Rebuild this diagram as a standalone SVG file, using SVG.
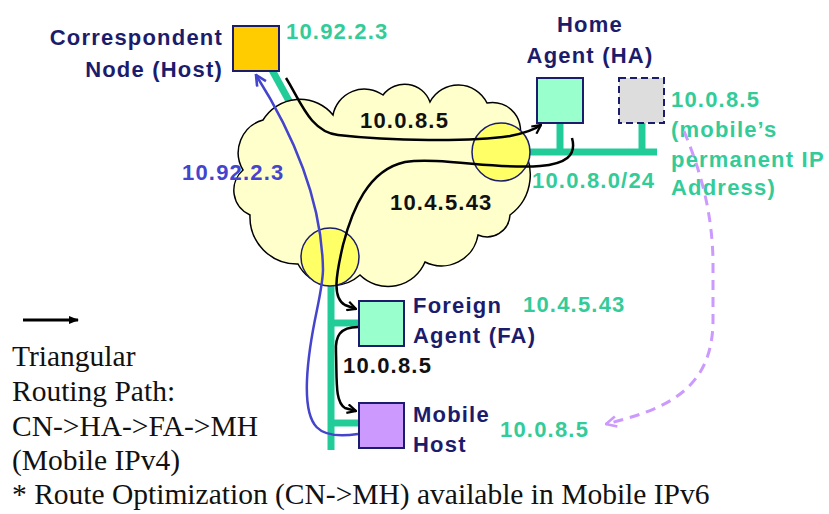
<svg xmlns="http://www.w3.org/2000/svg" width="829" height="514" viewBox="0 0 829 514">
<style>
.lbl{font-family:"Liberation Sans",Arial,sans-serif;font-weight:bold;font-size:22px;letter-spacing:1.2px}
.navy{fill:#1C1C6C}
.grn{fill:#33CC99}
.blk{fill:#111}
.blu{fill:#4444CC}
.serif{font-family:"Liberation Serif","Times New Roman",serif;font-size:29.5px;fill:#111}
.lan{stroke:#22CC99;stroke-width:7;fill:none}
.box{stroke:#1C1C6C;stroke-width:2}
.path{fill:none;stroke:#000;stroke-width:2.5}
.hot{fill:#FFFF66;stroke:#1C1C6C;stroke-width:1.5}
</style>
<defs>
<marker id="ah" viewBox="0 0 10 10" refX="9" refY="5" markerWidth="11" markerHeight="11" markerUnits="userSpaceOnUse" orient="auto">
<path d="M1,1 L9,5 L1,9" fill="none" stroke="#000" stroke-width="2"/>
</marker>
<marker id="ahb" viewBox="0 0 10 10" refX="9" refY="5" markerWidth="13" markerHeight="13" markerUnits="userSpaceOnUse" orient="auto">
<path d="M1,1 L9,5 L1,9" fill="none" stroke="#4444CC" stroke-width="2"/>
</marker>
<marker id="ahp" viewBox="0 0 10 10" refX="9" refY="5" markerWidth="13" markerHeight="13" markerUnits="userSpaceOnUse" orient="auto">
<path d="M1,1 L9,5 L1,9" fill="none" stroke="#CC99FF" stroke-width="2"/>
</marker>
<marker id="ahf" viewBox="0 0 10 10" refX="9" refY="5" markerWidth="10" markerHeight="10" markerUnits="userSpaceOnUse" orient="auto">
<path d="M0,1 L10,5 L0,9 Z" fill="#000"/>
</marker>
</defs>

<g id="links-under">
<line class="lan" x1="272" y1="70" x2="316" y2="150"/>
<line class="lan" x1="501" y1="152" x2="657" y2="152"/>
<line class="lan" x1="560" y1="123" x2="560" y2="152"/>
<line class="lan" x1="642" y1="123" x2="642" y2="152"/>
<line class="lan" x1="331" y1="270" x2="331" y2="450"/>
<line class="lan" x1="331" y1="323" x2="360" y2="323"/>
<line class="lan" x1="331" y1="423" x2="360" y2="423"/>
</g>

<g id="internet">
<path d="M263,120 A43,43 0 0 1 333,115 A32,32 0 0 1 383,95 A27,27 0 0 1 430,102 A32,32 0 0 1 487,103 A28,28 0 0 1 518,142 A50,50 0 0 1 510,215 A23,23 0 0 1 478,235 A37,37 0 0 1 425,262 A40,40 0 0 1 360,275 A40,40 0 0 1 298,264 A47,47 0 0 1 250,215 A27,27 0 0 1 243,170 A34,34 0 0 1 263,120 Z" fill="#FFFFCC" stroke="#000" stroke-width="1.5"/>
<circle class="hot" cx="501" cy="152" r="29"/>
<circle class="hot" cx="330" cy="257" r="29"/>
</g>

<g id="cn">
<rect class="box" x="233" y="26" width="46" height="45" fill="#FFCC00"/>
<text class="lbl navy" x="223" y="45" text-anchor="end">Correspondent</text>
<text class="lbl navy" x="223" y="77" text-anchor="end">Node (Host)</text>
<text class="lbl grn" x="286" y="39">10.92.2.3</text>
</g>

<g id="ha">
<rect class="box" x="537" y="78" width="46" height="45" fill="#99FFCC"/>
<text class="lbl navy" x="590" y="32" text-anchor="middle">Home</text>
<text class="lbl navy" x="590" y="63" text-anchor="middle">Agent (HA)</text>
<text class="lbl grn" x="532" y="188">10.0.8.0/24</text>
</g>

<g id="mh-home">
<rect class="box" x="619" y="78" width="45" height="45" fill="#DDDDDD" stroke-dasharray="7,4"/>
<text class="lbl grn" x="671" y="107">10.0.8.5</text>
<text class="lbl grn" x="671" y="137">(mobile’s</text>
<text class="lbl grn" x="671" y="167">permanent IP</text>
<text class="lbl grn" x="671" y="195">Address)</text>
</g>

<g id="fa">
<rect class="box" x="359" y="301" width="45" height="45" fill="#99FFCC"/>
<text class="lbl navy" x="413" y="313">Foreign</text>
<text class="lbl navy" x="413" y="343">Agent (FA)</text>
<text class="lbl grn" x="523" y="312">10.4.5.43</text>
</g>

<g id="mh">
<rect class="box" x="359" y="403" width="45" height="45" fill="#CC99FF"/>
<text class="lbl navy" x="413" y="422">Mobile</text>
<text class="lbl navy" x="413" y="452">Host</text>
<text class="lbl grn" x="500" y="437">10.0.8.5</text>
</g>

<g id="connectors">
<path class="path" d="M286,78 C300,100 310,132 338,135 C390,141 470,142 510,136 C525,133 534,130 541,125" marker-end="url(#ah)"/>
<path class="path" d="M572,138 C577,156 565,164 540,166 C500,170 440,157 405,162 C368,170 352,210 343,245 C336,275 332,298 345,305 L356,309" marker-end="url(#ah)"/>
<path class="path" d="M358,327 C340,327 335,336 336,352 C337,382 335,402 345,408 L356,411" marker-end="url(#ah)"/>
<path d="M358,434 C318,440 305,428 307,380 C309,330 322,300 323,270 C322,200 292,132 256,75" fill="none" stroke="#4444CC" stroke-width="2.5" marker-end="url(#ahb)"/>
<path d="M684,131 C700,170 712,210 713,260 L713,320 C713,392 662,410 606,424" fill="none" stroke="#CC99FF" stroke-width="3" stroke-dasharray="10,7" marker-end="url(#ahp)"/>
<line x1="23" y1="320" x2="78" y2="320" stroke="#000" stroke-width="3" marker-end="url(#ahf)"/>
</g>

<g id="labels">
<text class="lbl blk" x="360" y="128">10.0.8.5</text>
<text class="lbl blk" x="390" y="210">10.4.5.43</text>
<text class="lbl blk" x="343" y="373">10.0.8.5</text>
<text class="lbl blu" x="182" y="180">10.92.2.3</text>
<text class="serif" x="12" y="366">Triangular</text>
<text class="serif" x="12" y="401">Routing Path:</text>
<text class="serif" x="12" y="436">CN-&gt;HA-&gt;FA-&gt;MH</text>
<text class="serif" x="12" y="470">(Mobile IPv4)</text>
<text class="serif" x="12" y="504">* Route Optimization (CN-&gt;MH) available in Mobile IPv6</text>
</g>
</svg>
